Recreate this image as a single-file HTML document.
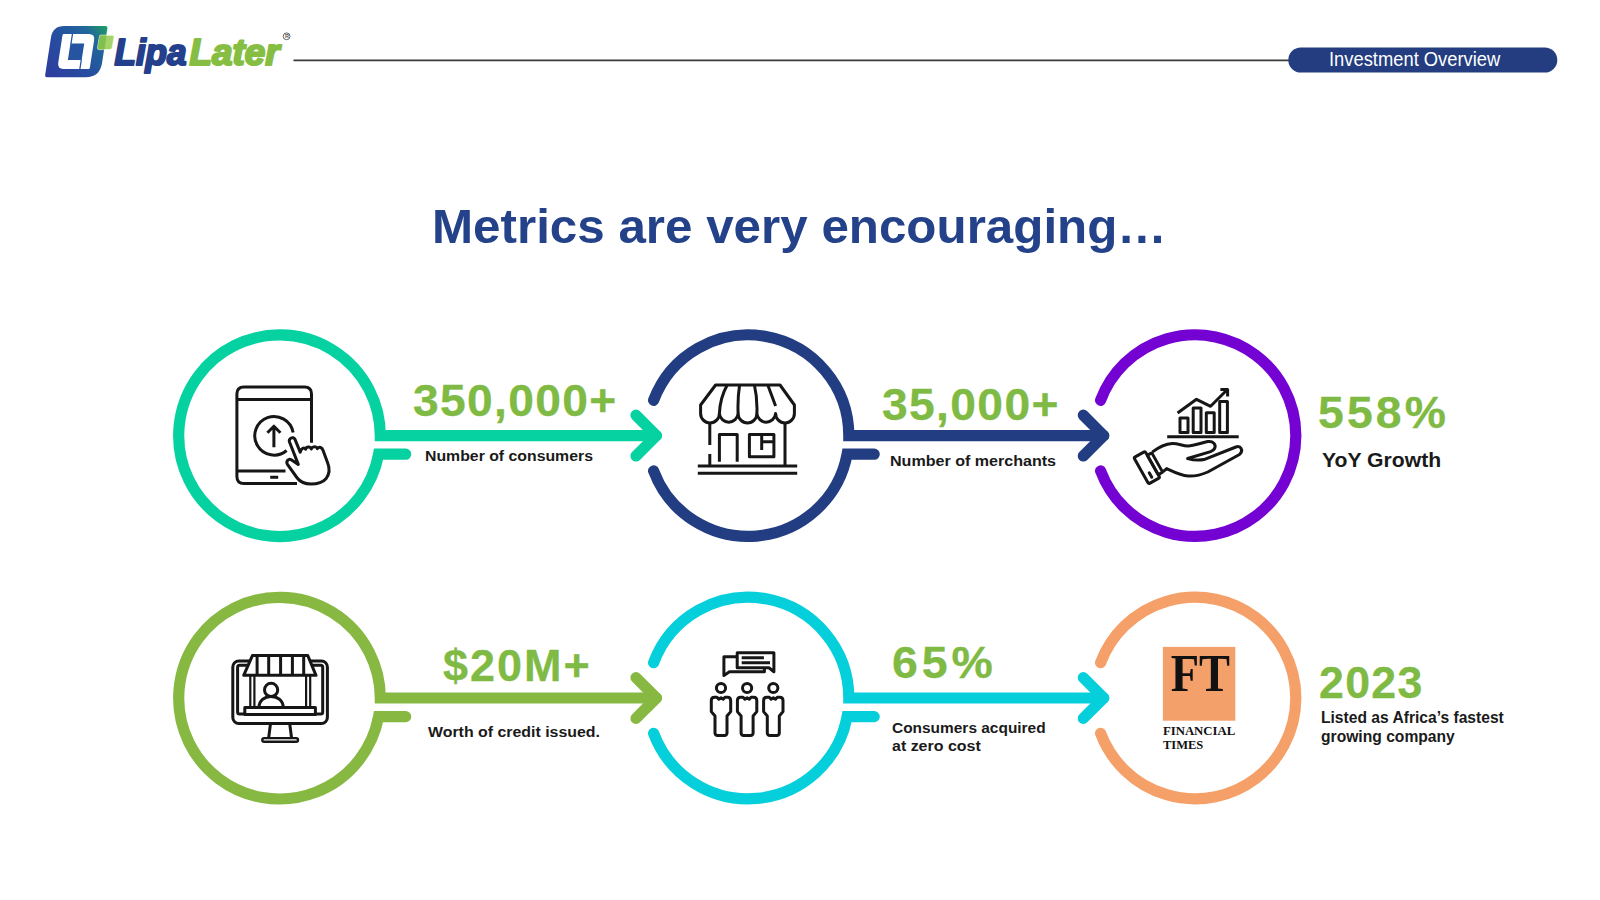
<!DOCTYPE html>
<html><head><meta charset="utf-8">
<style>
html,body{margin:0;padding:0;background:#fff;}
body{width:1600px;height:900px;position:relative;overflow:hidden;font-family:"Liberation Sans",sans-serif;}
svg.bg{position:absolute;left:0;top:0;}
.t{position:absolute;white-space:nowrap;line-height:1;transform-origin:0 0;}
</style></head><body>
<svg class="bg" width="1600" height="900" viewBox="0 0 1600 900">
<line x1="293.5" y1="60.4" x2="1295" y2="60.4" stroke="#3a3a3a" stroke-width="1.6"/>
<rect x="1288.3" y="47.4" width="269" height="25.2" rx="12.6" fill="#233D80"/>
<defs>
<linearGradient id="lgo" gradientUnits="userSpaceOnUse" x1="48" y1="80" x2="104" y2="22">
<stop offset="0" stop-color="#2E3B9E"/><stop offset="0.45" stop-color="#2650A0"/><stop offset="0.72" stop-color="#21689A"/><stop offset="0.9" stop-color="#1E9A66"/><stop offset="1" stop-color="#1DB24A"/>
</linearGradient>
</defs>
<g transform="translate(0,77.2) skewX(-8.8) translate(0,-77.2)">
<path fill="url(#lgo)" d="M56.3,25.9H97.6Q99.85,25.9 99.85,28.1V63Q99.85,77.2 85.6,77.2H47Q44.8,77.2 44.8,75V37.4Q44.8,25.9 56.3,25.9Z"/>
<path fill="#fff" d="M57.2,34.1H82.2Q88.4,34.1 88.4,40.3V67.7Q88.4,68.9 87.2,68.9H62.2Q56,68.9 56,62.7V35.3Q56,34.1 57.2,34.1Z"/>
<rect x="65.2" y="43.4" width="13.8" height="16.6" fill="#2754A0"/>
<path d="M65.8,34.1V44M78.6,59.5V68.9" stroke="#2656A0" stroke-width="1.3" fill="none"/>
</g>
<path d="M100.2,35.2H112.3Q114.3,35.2 114,37.2L112.2,47.6Q111.9,49.6 109.9,49.6H99.3Q97.3,49.6 97.6,47.6L99.4,37.2Q99.7,35.2 100.2,35.2Z" fill="#A5D36B" stroke="#F2FBEA" stroke-width="0.8"/>
<path d="M100.2,35.4H106.6L104.5,49.4H99.3Q97.5,49.4 97.8,47.6L99.4,37.2Q99.7,35.4 100.2,35.4Z" fill="#80C04C"/>
<text x="114.5" y="64.5" font-family="Liberation Sans" font-weight="bold" font-style="italic" font-size="36.8" fill="#243F8B" stroke="#243F8B" stroke-width="2.2" stroke-linejoin="round" textLength="72" lengthAdjust="spacingAndGlyphs">Lipa</text>
<text x="189.5" y="64.5" font-family="Liberation Sans" font-weight="bold" font-style="italic" font-size="36.8" fill="#86BE43" stroke="#86BE43" stroke-width="2.2" stroke-linejoin="round" textLength="90" lengthAdjust="spacingAndGlyphs">Later</text>
<circle cx="286.6" cy="36.3" r="3.4" fill="none" stroke="#555" stroke-width="0.9"/>
<text x="284.9" y="38.4" font-family="Liberation Sans" font-weight="bold" font-size="5.5" fill="#555">R</text>

<g fill="none" stroke-width="11.2" stroke-linecap="round" stroke-linejoin="miter" stroke-miterlimit="10">
<path d="M405.7,454.2L378.6,454.2A100.8,100.8 0 1 1 380.3,435.6L656.4,435.6" stroke="#05D2A0"/>
<path d="M636.0,415.2L656.4,435.6L636.0,456.0" stroke="#05D2A0" stroke-linejoin="round"/>
<path d="M874.2,454.2L847.1,454.2A100.8,100.8 0 0 1 653.6,470.9M653.6,400.3A100.8,100.8 0 0 1 848.8,435.6L1103.7,435.6" stroke="#233D82"/>
<path d="M1083.3,415.2L1103.7,435.6L1083.3,456.0" stroke="#233D82" stroke-linejoin="round"/>
<path d="M1100.6,400.3A100.8,100.8 0 1 1 1100.6,470.9" stroke="#7402D2"/>
<path d="M405.7,716.6L378.6,716.6A100.8,100.8 0 1 1 380.3,698.0L656.4,698.0" stroke="#86B842"/>
<path d="M636.0,677.6L656.4,698.0L636.0,718.4" stroke="#86B842" stroke-linejoin="round"/>
<path d="M874.2,716.6L847.1,716.6A100.8,100.8 0 0 1 653.6,733.3M653.6,662.7A100.8,100.8 0 0 1 848.8,698.0L1103.7,698.0" stroke="#06CFDC"/>
<path d="M1083.3,677.6L1103.7,698.0L1083.3,718.4" stroke="#06CFDC" stroke-linejoin="round"/>
<path d="M1100.6,662.7A100.8,100.8 0 1 1 1100.6,733.3" stroke="#F5A068"/>
</g>
<g fill="none" stroke="#161616" stroke-width="3" stroke-linecap="butt" stroke-linejoin="round">
<!-- icon1: tablet + hand -->
<path d="M311.5,442.8V394Q311.5,387 304.5,387H243.9Q236.9,387 236.9,394V476.6Q236.9,483.6 243.9,483.6H297"/>
<path d="M236.9,399.6H311.5M236.9,471H285.5M270.2,477.2H278.2"/>
<path d="M293.1,432.6A19.3,19.3 0 1 0 286.6,450.5"/>
<path d="M273.9,447.2V426.5M267.4,432.8L273.9,426.2L280.4,432.8"/>
<path fill="#fff" d="M298.3,464.4L289.5,442C288.3,438.4 293.4,435.8 295,439.4L300.2,452.1C301,448 304.3,447 305.6,449.2C306.6,446.5 310.3,446.3 311.3,449C312.4,446.4 316.3,446 317.4,448.6C319.2,446.2 322.3,447.6 323,450.3L327.7,463.1C329.6,468 329.6,474 326.2,478.4C322.6,482.6 317,484 311,484C305,484 300.2,482 297.2,478L287.6,464.6C285.5,461.5 288.6,457.8 291.6,459.9L298.3,464.4Z"/>
<!-- icon2: store -->
<path d="M715.6,385H780L794.4,405V413.5A9.38,9.38 0 0 1 775.6,413.5A9.38,9.38 0 0 1 756.9,413.5A9.38,9.38 0 0 1 738.1,413.5A9.38,9.38 0 0 1 719.4,413.5A9.38,9.38 0 0 1 700.6,413.5V405Z"/>
<path d="M719.4,413.5Q720,398 727.2,385M738.1,413.5Q737.5,398 739.6,385M756.9,413.5Q757.5,398 754.4,385M775.6,406L767.8,385"/>
<path d="M709.8,423V445M709.8,454V466M785,423V466"/>
<path d="M719.4,461.7V434.4H737.2V461.7"/>
<path d="M749.4,434.4H773.9V456.7H749.4Z M761.7,434.4V450 M761.7,441.7H773.9"/>
<path d="M697.8,466.1H797.2M697.8,473.3H797.2"/>
<!-- icon3: hand + chart -->
<path d="M1167.2,436.8H1238.7"/>
<path d="M1180,432.6V417.9H1188V432.6Z M1193.2,432.6V407.9H1201V432.6Z M1206.3,432.6V412.8H1214.2V432.6Z M1219.7,432.6V401.4H1227.4V432.6Z"/>
<path d="M1177.6,413L1196.5,399.3L1210.6,406.3L1227.4,389.5M1220.4,389.5H1227.6V396.5"/>
<g transform="translate(1146.86,467.64) rotate(-29.4)">
<rect x="-6.45" y="-15.05" width="12.9" height="30.1" rx="1.6"/>
<rect x="6.45" y="-10.5" width="5.1" height="22.2" rx="1.2"/>
<path d="M-0.45,5.6V10.8" stroke-linecap="round"/>
</g>
<path d="M1152.2,452.2C1158,447.5 1165,443.8 1172.4,443.4C1178,443.2 1183,446.2 1188.1,446C1194,445.8 1202,442.6 1207.8,441.6C1213,440.8 1216.5,444.5 1214.6,448.5C1213.8,450.2 1212,451 1210.6,451.6L1187.6,458.5C1192,459.8 1198,460.6 1204,459.6L1235.9,447C1240.5,445.2 1244,450.5 1239.5,454.5L1207.8,472C1201,475 1194,476.3 1188.1,476C1180,475.6 1173,471.5 1166.7,468.6L1162.8,471.9"/>
<!-- icon4: monitor kiosk -->
<rect x="232.8" y="661" width="94.6" height="62.5" rx="6"/>
<rect x="237.6" y="665.2" width="85.1" height="48.8" rx="2"/>
<path d="M270.5,723.5L268.7,737.6M289.7,723.5L291.5,737.6"/>
<rect x="262.3" y="738.1" width="35.7" height="3.6" rx="1.8" stroke-width="2.4"/>
<path fill="#fff" d="M252.4,655.6H307.8L316,675.3H243.7Z"/>
<path d="M257.1,655.6V675.3M268.7,655.6V675.3M280.6,655.6V675.3M292.4,655.6V675.3M303.7,655.6V675.3"/>
<path stroke-width="2.2" d="M250.3,675.3V707.4M254.4,675.3V707.4M306.1,675.3V707.4M310.2,675.3V707.4"/>
<rect x="244.8" y="707.4" width="70.6" height="7" fill="#fff"/>
<circle cx="271.1" cy="689.9" r="6.6"/>
<path d="M259,707.4C259,700.8 264.4,696.4 271.1,696.4C277.8,696.4 283.2,700.8 283.2,707.4"/>
<!-- icon5: people -->
<path d="M737.2,656.7H723.9V675.6L729.4,671.7H764.4V667.8"/>
<path d="M737.2,667.8V652.8H773.9V671.7L768.9,667.8Z"/>
<path d="M741.7,657.8H763.9M741.7,662.8H770"/>
<circle cx="721.0" cy="688" r="4.6"/>
<path d="M717.0,697.2L718.8,699.2L721.0,697.8L723.2,699.2L725.0,697.2H727.5Q730.7,697.2 730.7,700.4V711.6L727.0,716V733.2Q726.6,735.4 724.6,735.4H717.4Q715.4,735.4 715.0,733.2V716L711.3,711.6V700.4Q711.3,697.2 714.5,697.2Z"/>
<circle cx="747.1" cy="688" r="4.6"/>
<path d="M743.1,697.2L744.9,699.2L747.1,697.8L749.3,699.2L751.1,697.2H753.6Q756.8,697.2 756.8,700.4V711.6L753.1,716V733.2Q752.7,735.4 750.7,735.4H743.5Q741.5,735.4 741.1,733.2V716L737.4,711.6V700.4Q737.4,697.2 740.6,697.2Z"/>
<circle cx="773.3" cy="688" r="4.6"/>
<path d="M769.3,697.2L771.1,699.2L773.3,697.8L775.5,699.2L777.3,697.2H779.8Q783.0,697.2 783.0,700.4V711.6L779.3,716V733.2Q778.9,735.4 776.9,735.4H769.7Q767.7,735.4 767.3,733.2V716L763.6,711.6V700.4Q763.6,697.2 766.8,697.2Z"/>
<!-- icon6: FT -->
<rect x="1162.9" y="646.9" width="72.4" height="73.8" fill="#F4A06B" stroke="none"/>
<text x="1170.7" y="691.3" font-family="Liberation Serif" font-weight="bold" font-size="52" textLength="59.3" lengthAdjust="spacingAndGlyphs" fill="#111" stroke="none">FT</text>
<text x="1162.9" y="735.3" font-family="Liberation Serif" font-weight="bold" font-size="11.6" textLength="72.4" lengthAdjust="spacingAndGlyphs" fill="#111" stroke="none">FINANCIAL</text>
<text x="1162.9" y="749.3" font-family="Liberation Serif" font-weight="bold" font-size="11.6" textLength="40.4" lengthAdjust="spacingAndGlyphs" fill="#111" stroke="none">TIMES</text>

</g>
</svg>
<div class="t" style="left:431.96px;top:202.28px;font-size:48.69px;font-weight:bold;color:#24428A;letter-spacing:0.00px;transform:scaleX(1.0131)">Metrics are very encouraging…</div>
<div class="t" style="left:1329.06px;top:49.54px;font-size:19.91px;font-weight:normal;color:#FFFFFF;letter-spacing:0.00px;transform:scaleX(0.9217)">Investment Overview</div>
<div class="t" style="left:412.82px;top:378.21px;font-size:45.00px;font-weight:bold;color:#7FBA44;letter-spacing:1.28px;transform:scaleX(1.0267);-webkit-text-stroke:0.3px #7FBA44">350,000+</div>
<div class="t" style="left:425.18px;top:447.83px;font-size:15.55px;font-weight:bold;color:#1A1A1A;letter-spacing:0.00px;transform:scaleX(1.0178)">Number of consumers</div>
<div class="t" style="left:882.02px;top:381.66px;font-size:45.00px;font-weight:bold;color:#7FBA44;letter-spacing:1.31px;transform:scaleX(1.0270);-webkit-text-stroke:0.3px #7FBA44">35,000+</div>
<div class="t" style="left:889.87px;top:452.63px;font-size:15.55px;font-weight:bold;color:#1A1A1A;letter-spacing:0.00px;transform:scaleX(1.0333)">Number of merchants</div>
<div class="t" style="left:1317.74px;top:390.51px;font-size:44.29px;font-weight:bold;color:#7FBA44;letter-spacing:3.00px;transform:scaleX(1.0461);-webkit-text-stroke:0.3px #7FBA44">558%</div>
<div class="t" style="left:1322.00px;top:448.66px;font-size:21.08px;font-weight:bold;color:#1A1A1A;letter-spacing:0.00px;transform:scaleX(1.0043)">YoY Growth</div>
<div class="t" style="left:443.21px;top:645.32px;font-size:43.57px;font-weight:bold;color:#7FBA44;letter-spacing:1.94px;transform:scaleX(1.0326);-webkit-text-stroke:0.3px #7FBA44">$20M+</div>
<div class="t" style="left:428.00px;top:724.23px;font-size:15.55px;font-weight:bold;color:#1A1A1A;letter-spacing:0.00px;transform:scaleX(1.0222)">Worth of credit issued.</div>
<div class="t" style="left:891.72px;top:641.21px;font-size:44.29px;font-weight:bold;color:#7FBA44;letter-spacing:3.72px;transform:scaleX(1.0488);-webkit-text-stroke:0.3px #7FBA44">65%</div>
<div class="t" style="left:891.71px;top:719.53px;font-size:15.55px;font-weight:bold;color:#1A1A1A;letter-spacing:0.00px;transform:scaleX(0.9935)">Consumers acquired</div>
<div class="t" style="left:891.67px;top:738.13px;font-size:15.55px;font-weight:bold;color:#1A1A1A;letter-spacing:0.00px;transform:scaleX(1.0271)">at zero cost</div>
<div class="t" style="left:1319.12px;top:661.10px;font-size:43.71px;font-weight:bold;color:#7FBA44;letter-spacing:1.27px;transform:scaleX(1.0223);-webkit-text-stroke:0.3px #7FBA44">2023</div>
<div class="t" style="left:1320.90px;top:710.27px;font-size:15.63px;font-weight:bold;color:#1A1A1A;letter-spacing:0.00px;transform:scaleX(0.9992)">Listed as Africa’s fastest</div>
<div class="t" style="left:1320.90px;top:728.67px;font-size:15.63px;font-weight:bold;color:#1A1A1A;letter-spacing:0.00px;transform:scaleX(1.0008)">growing company</div>
</body></html>
